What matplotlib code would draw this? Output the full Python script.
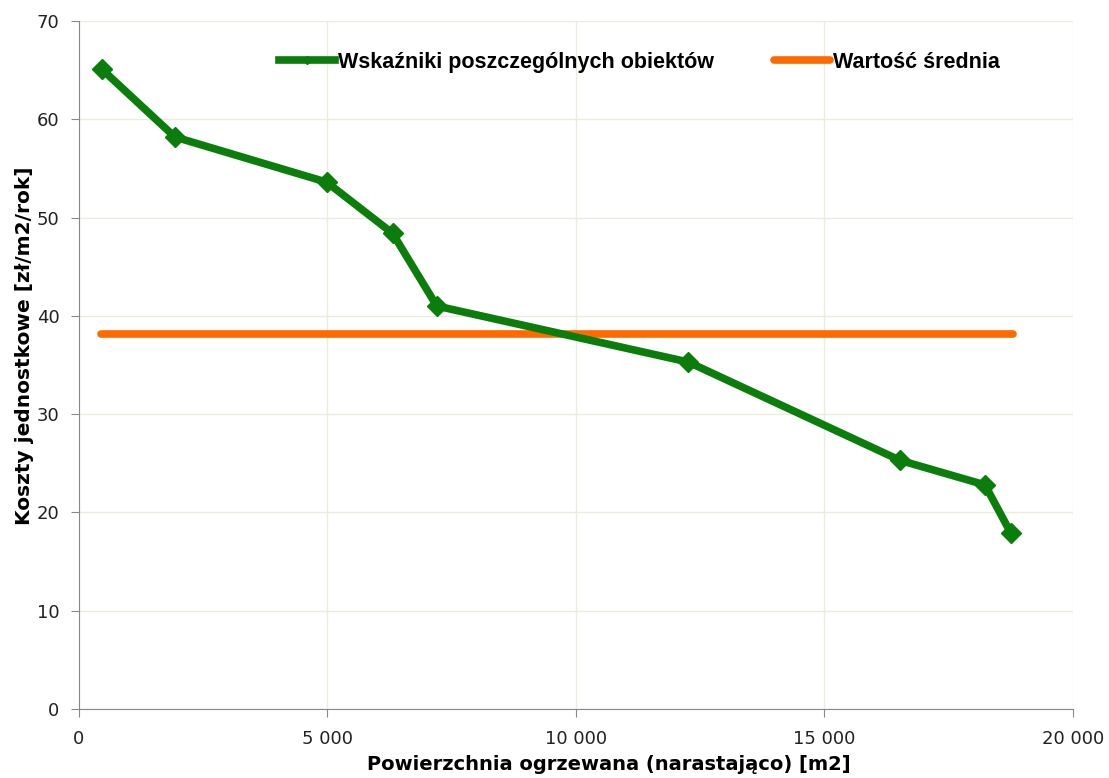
import numpy as np
import matplotlib.pyplot as plt

# cumulative heated area [m2] and unit cost [zl/m2/year]
area = [460, 1930, 4985, 6310, 7200, 12260, 16520, 18230, 18750]
unit_cost = [65.1, 58.2, 53.6, 48.4, 41.0, 35.3, 25.3, 22.8, 17.9]
mean_x = [450, 18800]
mean_value = 38.2

fig = plt.figure(figsize=(11.09, 7.78), dpi=100)
ax = fig.add_axes([0.0712, 0.0887, 0.8963, 0.8843])

ax.plot(area, unit_cost, color="#0a7d0a", lw=5.5, marker="D", ms=10,
        solid_joinstyle="round", label="Wskaźniki poszczególnych obiektów", zorder=3)
ax.plot(mean_x, [mean_value, mean_value], color="#ff6a00", lw=5.5,
        solid_capstyle="round", label="Wartość średnia", zorder=2)

ax.set_xlim(0, 20000)
ax.set_ylim(0, 70)
ax.set_xticks(np.arange(0, 20001, 5000))
ax.set_xticklabels(["0", "5 000", "10 000", "15 000", "20 000"])
ax.set_yticks(np.arange(0, 71, 10))
ax.tick_params(labelsize=13, colors="#222222", length=6, color="#888888")
ax.tick_params(axis="x", pad=9)
ax.tick_params(axis="y", pad=8)

ax.grid(True, color="#ecebe0", lw=1)
ax.set_axisbelow(True)
for side in ["top", "right"]:
    ax.spines[side].set_visible(False)
for side in ["left", "bottom"]:
    ax.spines[side].set_color("#888888")

ax.set_xlabel("Powierzchnia ogrzewana (narastająco) [m2]", fontsize=14, fontweight="bold")
ax.xaxis.set_label_coords(0.533, -0.067)
ax.set_ylabel("Koszty jednostkowe [zł/m2/rok]", fontsize=14.5, fontweight="bold")
ax.yaxis.set_label_coords(-0.045, 0.528)

leg = ax.legend(loc="center", bbox_to_anchor=(0.564, 0.94), ncol=2, frameon=False,
                handlelength=2.6, handletextpad=0.15, columnspacing=2.8, markerscale=0.4,
                prop={"family": "Liberation Sans", "weight": "bold", "size": 15.5})

fig.savefig("out.png", dpi=100)
